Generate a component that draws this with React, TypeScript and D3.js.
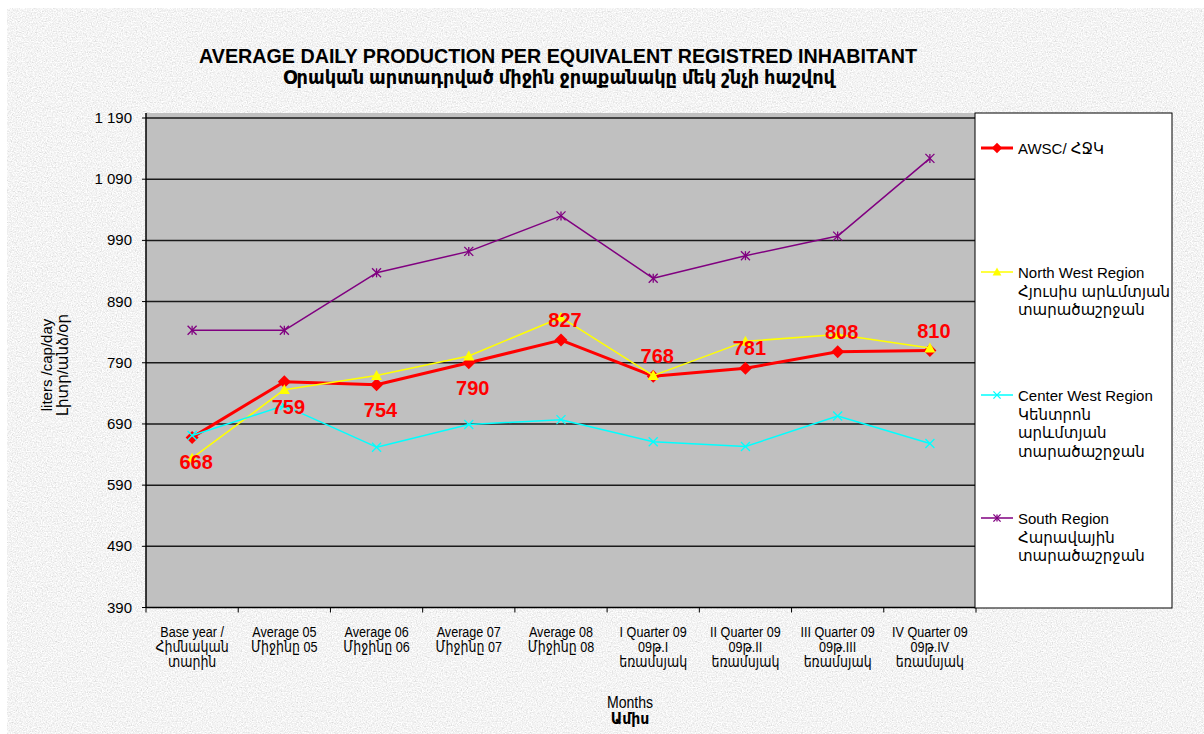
import React from "react";
import * as d3 from "d3";

// categories (x axis), three text lines each
const categories: string[][] = [
  ["Base year /", "Հիմնական", "տարին"],
  ["Average 05", "Միջինը 05"],
  ["Average 06", "Միջինը 06"],
  ["Average 07", "Միջինը 07"],
  ["Average 08", "Միջինը 08"],
  ["I Quarter 09", "09թ.I", "եռամսյակ"],
  ["II Quarter 09", "09թ.II", "եռամսյակ"],
  ["III Quarter 09", "09թ.III", "եռամսյակ"],
  ["IV Quarter 09", "09թ.IV", "եռամսյակ"],
];

const awsc = [668, 759, 754, 790, 827, 768, 781, 808, 810];
const northWest = [634, 746, 769, 801, 864, 769, 825, 836, 814];
const centerWest = [671, 720, 652, 689, 697, 661, 653, 703, 658];
const south = [843, 843, 937, 972, 1030, 928, 965, 997, 1124];

// whether the AWSC value label sits below (true) or above the point
const labelBelow = [true, true, true, true, false, false, false, false, false];

const yTicks = [390, 490, 590, 690, 790, 890, 990, 1090, 1190];

const legendNames: string[][] = [
  ["AWSC/ ՀՋԿ"],
  ["North West Region", "Հյուսիս արևմտյան", "տարածաշրջան"],
  ["Center West Region", "Կենտրոն", "արևմտյան", "տարածաշրջան"],
  ["South Region", "Հարավային", "տարածաշրջան"],
];

const W = 1204;
const H = 734;
const plot = { left: 146, right: 976, top: 113, bottom: 607.5 };

const sans = "'Liberation Sans', Arial, 'DejaVu Sans', sans-serif";

type Marker = "diamond" | "triangle" | "x" | "star";

function MarkerShape({ kind, x, y, color, s = 1 }: { kind: Marker; x: number; y: number; color: string; s?: number }) {
  if (kind === "diamond") {
    const r = 6.5 * s;
    return <path d={`M${x},${y - r}L${x + r},${y}L${x},${y + r}L${x - r},${y}Z`} fill={color} />;
  }
  if (kind === "triangle") {
    const r = 5.5 * s;
    return <path d={`M${x},${y - r}L${x + r},${y + r * 0.8}L${x - r},${y + r * 0.8}Z`} fill={color} />;
  }
  const r = 4.5 * s;
  return (
    <g stroke={color} strokeWidth={1.3}>
      <line x1={x - r} y1={y - r} x2={x + r} y2={y + r} />
      <line x1={x - r} y1={y + r} x2={x + r} y2={y - r} />
      {kind === "star" && <line x1={x} y1={y - r} x2={x} y2={y + r} />}
    </g>
  );
}

export default function App() {
  const x = d3
    .scaleBand<number>()
    .domain(d3.range(categories.length))
    .range([plot.left, plot.right]);
  const y = d3.scaleLinear().domain([390, 1190]).range([plot.bottom, 118]);
  const cx = (i: number) => (x(i) as number) + x.bandwidth() / 2;

  const line = d3
    .line<number>()
    .x((_, i) => cx(i))
    .y((d) => y(d));

  const series: { name: string; values: number[]; color: string; width: number; marker: Marker }[] = [
    { name: "awsc", values: awsc, color: "#ff0000", width: 3, marker: "diamond" },
    { name: "nw", values: northWest, color: "#ffff00", width: 1.5, marker: "triangle" },
    { name: "cw", values: centerWest, color: "#00ffff", width: 1.5, marker: "x" },
    { name: "south", values: south, color: "#800080", width: 1.5, marker: "star" },
  ];

  const legendY = [148, 272, 395, 518];

  return (
    <svg
      width={W}
      height={H}
      style={{ position: "absolute", left: 0, top: 0, background: "#fff" }}
    >
      <defs>
        <filter id="grain" x="0" y="0" width="100%" height="100%">
          <feTurbulence type="fractalNoise" baseFrequency="0.8" numOctaves="2" seed="4" />
          <feColorMatrix
            type="matrix"
            values="0.33 0.33 0.33 0 0  0.33 0.33 0.33 0 0  0.33 0.33 0.33 0 0  0 0 0 0 1"
          />
          <feComponentTransfer>
            <feFuncR type="linear" slope="0.85" intercept="0.48" />
            <feFuncG type="linear" slope="0.85" intercept="0.48" />
            <feFuncB type="linear" slope="0.85" intercept="0.48" />
          </feComponentTransfer>
        </filter>
      </defs>

      {/* textured page background */}
      <rect x={7} y={8} width={W - 7} height={H - 8} fill="#e8e8e8" />
      <rect x={7} y={8} width={W - 7} height={H - 8} filter="url(#grain)" />

      {/* title */}
      <text x={558} y={63} textAnchor="middle" fontFamily={sans} fontWeight="bold" fontSize={20}
        textLength={718} lengthAdjust="spacingAndGlyphs">
        AVERAGE DAILY PRODUCTION PER EQUIVALENT REGISTRED INHABITANT
      </text>
      <text x={559} y={84} textAnchor="middle" fontFamily={sans} fontWeight="bold" fontSize={19}
        textLength={552} lengthAdjust="spacingAndGlyphs">
        Օրական արտադրված միջին ջրաքանակը մեկ   շնչի հաշվով
      </text>

      {/* plot area */}
      <rect x={plot.left} y={plot.top} width={plot.right - plot.left} height={plot.bottom - plot.top} fill="#c0c0c0" />
      {yTicks.map((t) => (
        <g key={t}>
          {t > 390 && (
            <line x1={plot.left} x2={plot.right} y1={y(t)} y2={y(t)} stroke="#1a1a1a" strokeWidth={1.5} />
          )}
          <line x1={plot.left - 4} x2={plot.left} y1={y(t)} y2={y(t)} stroke="#000" />
          <text x={132} y={y(t) + 5} textAnchor="end" fontFamily={sans} fontSize={15} fill="#000">
            {d3.format(",")(t).replace(",", " ")}
          </text>
        </g>
      ))}
      <line x1={plot.left} x2={plot.left} y1={plot.top} y2={plot.bottom} stroke="#000" strokeWidth={1.5} />
      <line x1={plot.left} x2={plot.right} y1={plot.bottom} y2={plot.bottom} stroke="#000" strokeWidth={1.5} />
      {d3.range(categories.length + 1).map((i) => {
        const px = plot.left + i * x.step();
        return <line key={i} x1={px} x2={px} y1={plot.bottom} y2={plot.bottom + 5} stroke="#000" />;
      })}

      {/* x category labels, horizontally condensed */}
      {categories.map((lines, i) => (
        <g key={i} transform={`translate(${cx(i)},0) scale(0.84,1)`}>
          <text textAnchor="middle" fontFamily={sans} fontSize={15} fill="#000">
            {lines.map((l, j) => (
              <tspan key={j} x={0} y={637 + j * 15}>
                {l}
              </tspan>
            ))}
          </text>
        </g>
      ))}

      {/* axis titles */}
      <g transform="translate(630,0) scale(0.88,1)">
        <text textAnchor="middle" fontFamily={sans} fontSize={16} fill="#000">
          <tspan x={0} y={708}>Months</tspan>
          <tspan x={0} y={724} fontWeight="bold">Ամիս</tspan>
        </text>
      </g>
      <g transform="translate(52,365) rotate(-90)">
        <text textAnchor="middle" fontFamily={sans} fontSize={15} fill="#000">
          <tspan x={0} y={0}>liters /cap/day</tspan>
          <tspan x={0} y={16}>Լիտր/անձ/օր</tspan>
        </text>
      </g>

      {/* series */}
      {series.map((s) => (
        <g key={s.name}>
          <path d={line(s.values) ?? ""} fill="none" stroke={s.color} strokeWidth={s.width} strokeLinejoin="round" />
          {s.values.map((v, i) => (
            <MarkerShape key={i} kind={s.marker} x={cx(i)} y={y(v)} color={s.color} />
          ))}
        </g>
      ))}

      {/* AWSC value labels */}
      {awsc.map((v, i) => (
        <text
          key={i}
          x={cx(i) + 4}
          y={y(v) + (labelBelow[i] ? 32 : -13)}
          textAnchor="middle"
          fontFamily={sans}
          fontWeight="bold"
          fontSize={20}
          fill="#ff0000"
        >
          {v}
        </text>
      ))}

      {/* legend */}
      <rect x={975} y={113} width={197} height={495} fill="#fff" stroke="#000" strokeWidth={1} />
      {series.map((s, k) => (
        <g key={s.name}>
          <line x1={981} x2={1013} y1={legendY[k]} y2={legendY[k]} stroke={s.color} strokeWidth={s.width} />
          <MarkerShape kind={s.marker} x={997} y={legendY[k]} color={s.color} s={0.8} />
          <text fontFamily={sans} fontSize={15} fill="#000">
            {legendNames[k].map((l, j) => (
              <tspan key={j} x={1018} y={legendY[k] + 6 + j * 18.6}>
                {l}
              </tspan>
            ))}
          </text>
        </g>
      ))}
    </svg>
  );
}
